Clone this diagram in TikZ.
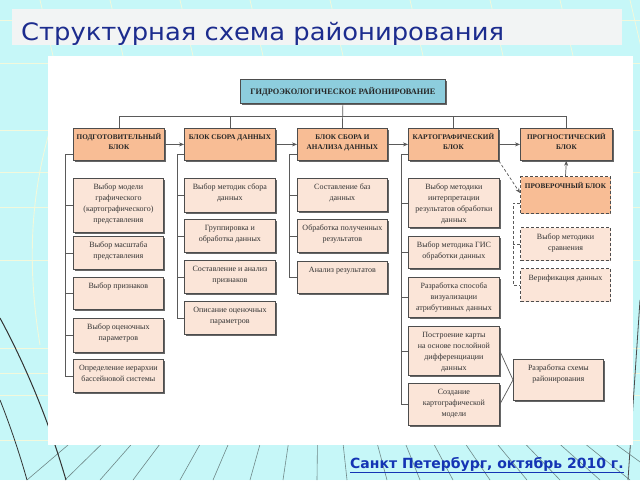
\documentclass[tikz,border=0pt]{standalone}
\usepackage{fontspec}
\setmainfont{Liberation Serif}
\newfontfamily\titlefont{DejaVu Sans}
\usetikzlibrary{arrows.meta,calc,shadows}

\definecolor{bgcyan}{HTML}{C6F7F8}
\definecolor{bandgrey}{HTML}{F2F4F4}
\definecolor{titleblue}{HTML}{1C2C8E}
\definecolor{footblue}{HTML}{1434B4}
\definecolor{mainor}{HTML}{F8BD95}
\definecolor{subpink}{HTML}{FBE5D8}
\definecolor{topblue}{HTML}{8DCDDD}
\definecolor{edge}{HTML}{4D4D4D}
\definecolor{lnk}{HTML}{5A5A5A}
\definecolor{gridline}{HTML}{6F8888}
\definecolor{lightline}{HTML}{F2F8DC}

\tikzset{
  boxbase/.style={draw=edge, line width=0.8pt, inner sep=0pt, anchor=north west,
    drop shadow={shadow xshift=1.6pt, shadow yshift=-1.6pt, fill=black!60, opacity=1}},
  mainbox/.style={boxbase, fill=mainor, text=black!85, font=\fontsize{7.2}{10}\selectfont\bfseries},
  subbox/.style={boxbase, fill=subpink, text=black!80, font=\fontsize{8}{11}\selectfont},
  topbox/.style={boxbase, fill=topblue, text=black!85, font=\fontsize{8.3}{10}\selectfont\bfseries},
  dashbase/.style={draw=edge, line width=1pt, dash pattern=on 3pt off 2pt, inner sep=0pt, anchor=north west},
  dashmain/.style={dashbase, fill=mainor, text=black!85, font=\fontsize{7.2}{10}\selectfont\bfseries},
  dashsub/.style={dashbase, fill=subpink, text=black!80, font=\fontsize{8}{11}\selectfont},
  conn/.style={draw=lnk, line width=0.7pt},
  dconn/.style={conn, dash pattern=on 3pt off 2pt},
  arr/.style={conn, -{Stealth[length=5pt,width=4pt]}},
  darr/.style={dconn, -{Stealth[length=5pt,width=4pt]}},
}

% #1 name, #2 style, #3 x, #4 y, #5 width, #6 height, #7 text
\newcommand\blk[7]{%
  \node[#2, minimum width=#5pt, minimum height=#6pt] (#1) at (#3,#4)
    {\parbox[c][#6pt][t]{#5pt}{\centering\rule{0pt}{11.5pt}#7}};}

\begin{document}
\begin{tikzpicture}[x=1pt,y=-1pt]
\useasboundingbox (0,0) rectangle (640,480);
% background
\fill[bgcyan] (0,0) rectangle (640,480);
\foreach \yy in {20, 63, 130, 172, 207, 260, 348, 373, 395, 440}
  \draw[lightline, line width=0.9pt] (0,\yy) -- (640,\yy);
\draw[lightline, line width=0.9pt] (60,100) .. controls (30,180) and (26,260) .. (40,345);
\foreach \xx in {27, 65, 100, 133, 180, 213, 250, 283, 317, 347, 387, 420, 453, 490, 527, 560, 600, 630, 665}
  \draw[gridline, line width=0.6pt] (320,230) -- (\xx,480);
\foreach \xx in {40, 110, 180, 250, 330, 410, 490, 560, 630}
  \draw[lightline, line width=0.8pt] (\xx,0) -- (\xx+14,60);
\draw[black!80, line width=1pt] (0,318) .. controls (28,370) and (50,425) .. (66,480);
\draw[black!80, line width=0.8pt] (0,400) .. controls (10,425) and (20,455) .. (27,480);
\draw[black!70, line width=0.8pt] (640,300) -- (628,480);

% title band
\fill[bandgrey] (12,9) rectangle (622,45);
\node[anchor=base west, inner sep=0pt, text=titleblue, font=\titlefont\fontsize{24}{24}\selectfont]
  (title) at (21,40) {\scalebox{1.075}[1]{Структурная схема районирования}};

% white panel
\fill[white] (48,56) rectangle (633,445);

% footer
\node[anchor=base west, inner sep=0pt, text=footblue, font=\titlefont\bfseries\fontsize{14}{15}\selectfont]
  (foot) at (350,468) {\underline{Санкт Петербург, октябрь 2010 г.}};

% top box
\node[topbox, minimum width=205pt, minimum height=24pt] (top) at (240,79)
  {ГИДРОЭКОЛОГИЧЕСКОЕ РАЙОНИРОВАНИЕ};

% main blocks
\blk{m1}{mainbox}{73}{128}{91}{32}{ПОДГОТОВИТЕЛЬНЫЙ\\БЛОК}
\blk{m2}{mainbox}{184}{128}{91}{32}{БЛОК СБОРА ДАННЫХ}
\blk{m3}{mainbox}{297}{128}{90}{32}{БЛОК СБОРА И\\АНАЛИЗА ДАННЫХ}
\blk{m4}{mainbox}{408}{128}{90}{32}{КАРТОГРАФИЧЕСКИЙ\\БЛОК}
\blk{m5}{mainbox}{520}{128}{92}{32}{ПРОГНОСТИЧЕСКИЙ\\БЛОК}

% column 1
\blk{a1}{subbox}{73}{178}{90}{54}{Выбор модели\\графического\\(картографического)\\представления}
\blk{a2}{subbox}{73}{236}{90}{33}{Выбор масштаба\\представления}
\blk{a3}{subbox}{73}{277}{90}{32}{Выбор признаков}
\blk{a4}{subbox}{73}{318}{90}{34}{Выбор оценочных\\параметров}
\blk{a5}{subbox}{73}{359}{90}{33}{Определение иерархии\\бассейновой системы}

% column 2
\blk{b1}{subbox}{184}{178}{91}{34}{Выбор методик сбора\\данных}
\blk{b2}{subbox}{184}{219}{91}{33}{Группировка и\\обработка данных}
\blk{b3}{subbox}{184}{260}{91}{33}{Составление и анализ\\признаков}
\blk{b4}{subbox}{184}{301}{91}{33}{Описание оценочных\\параметров}

% column 3
\blk{c1}{subbox}{297}{178}{90}{33}{Составление баз\\данных}
\blk{c2}{subbox}{297}{219}{90}{33}{Обработка полученных\\результатов}
\blk{c3}{subbox}{297}{261}{90}{32}{Анализ результатов}

% column 4
\blk{d1}{subbox}{408}{178}{91}{49}{Выбор методики\\интерпретации\\результатов обработки\\данных}
\blk{d2}{subbox}{408}{236}{91}{32}{Выбор методика ГИС\\обработки данных}
\blk{d3}{subbox}{408}{277}{91}{40}{Разработка способа\\визуализации\\атрибутивных данных}
\blk{d4}{subbox}{408}{326}{91}{49}{Построение карты\\на основе послойной\\дифференциации\\данных}
\blk{d5}{subbox}{408}{383}{91}{42}{Создание\\картографической\\модели}
\blk{e}{subbox}{513}{359}{90}{41}{Разработка схемы\\районирования}

% column 5
\blk{f}{dashmain}{520}{176}{90}{37}{ПРОВЕРОЧНЫЙ БЛОК}
\blk{g1}{dashsub}{520}{227}{90}{33}{Выбор методики\\сравнения}
\blk{g2}{dashsub}{520}{268}{90}{33}{Верификация данных}

% top connections
\draw[conn] (top.south) -- (m3.north);
\draw[conn] (m1.north) |- ($(m5.north)+(0,-12)$) -- (m5.north);
\draw[conn] (m2.north) -- ++(0,-12);
\draw[conn] (m4.north) -- ++(0,-12);

% arrows between main blocks
\draw[arr] (m1) -- (m2);
\draw[arr] (m2) -- (m3);
\draw[arr] (m3) -- (m4);
\draw[arr] (m4) -- (m5);
\draw[arr] (f.north) -- (m5.south);
\draw[darr] (m4.south east) -- ($(f.north west)+(0,17)$);

% brackets
\draw[conn] ($(m1.south west)+(0,-6)$) -- ++(-8,0) |- (a5.west);
\foreach \n in {a1,a2,a3,a4} \draw[conn] (\n.west) -- ++(-8,0);
\draw[conn] ($(m2.south west)+(0,-6)$) -- ++(-7,0) |- (b4.west);
\foreach \n in {b1,b2,b3} \draw[conn] (\n.west) -- ++(-7,0);
\draw[conn] ($(m3.south west)+(0,-6)$) -- ++(-8,0) |- (c3.west);
\foreach \n in {c1,c2} \draw[conn] (\n.west) -- ++(-8,0);
\draw[conn] ($(m4.south west)+(0,-6)$) -- ++(-7,0) |- (d5.west);
\foreach \n in {d1,d2,d3,d4} \draw[conn] (\n.west) -- ++(-7,0);
\draw[dconn] ($(f.south west)+(0,-11)$) -- ++(-7,0) |- (g2.west);
\draw[dconn] (g1.west) -- ++(-7,0);

% to zoning scheme
\draw[conn] (d4.east) -- (e.west) -- (d5.east);
\end{tikzpicture}
\end{document}
